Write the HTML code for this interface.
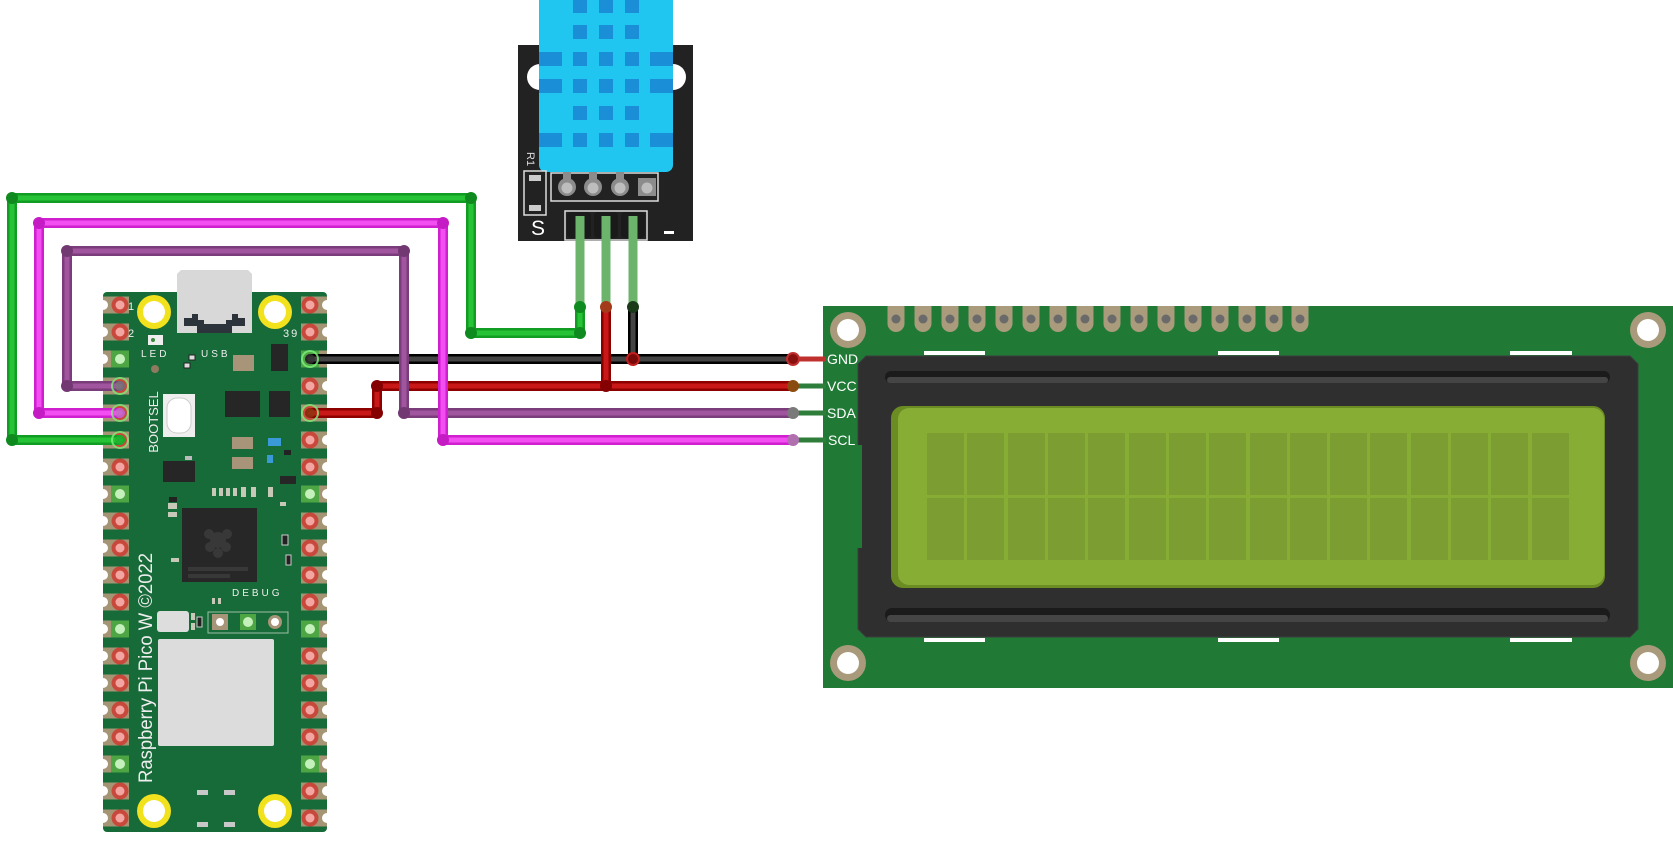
<!DOCTYPE html>
<html><head><meta charset="utf-8"><style>
html,body{margin:0;padding:0;background:#fff;}
svg{display:block;}
text{font-family:"Liberation Sans",sans-serif;}
</style></head><body>
<svg width="1673" height="853" viewBox="0 0 1673 853" xmlns="http://www.w3.org/2000/svg">
<defs>
<g id="pl">
 <rect x="103" y="-8.5" width="26" height="17" fill="#a69575"/>
 <circle cx="103" cy="0" r="5" fill="#fff"/>
 <circle cx="120" cy="0" r="8.5" fill="#c8493c"/>
 <circle cx="120" cy="0" r="4.5" fill="#f3a6a1"/>
</g>
<g id="plg">
 <rect x="103" y="-8.5" width="26" height="17" fill="#a69575"/>
 <circle cx="103" cy="0" r="5" fill="#fff"/>
 <rect x="111" y="-8.5" width="18" height="17" fill="#4da543"/>
 <circle cx="120" cy="0" r="5" fill="#c4f0bc"/>
</g>
<g id="pr">
 <rect x="301" y="-8.5" width="26" height="17" fill="#a69575"/>
 <circle cx="327" cy="0" r="5" fill="#fff"/>
 <circle cx="310" cy="0" r="8.5" fill="#c8493c"/>
 <circle cx="310" cy="0" r="4.5" fill="#f3a6a1"/>
</g>
<g id="prg">
 <rect x="301" y="-8.5" width="26" height="17" fill="#a69575"/>
 <circle cx="327" cy="0" r="5" fill="#fff"/>
 <rect x="301" y="-8.5" width="18" height="17" fill="#4da543"/>
 <circle cx="310" cy="0" r="5" fill="#c4f0bc"/>
</g>
<g id="tab">
 <path d="M-8.5 306 V323.5 A8.5 8.5 0 0 0 8.5 323.5 V306 Z" fill="#a99b7c"/>
 <circle cx="0" cy="319" r="4.5" fill="#6a6a6a"/>
</g>
<g id="hole">
 <circle r="18" fill="#a89a7b"/>
 <circle r="11" fill="#fff"/>
</g>
<g id="yhole">
 <circle r="17" fill="#f2e11d"/>
 <circle r="11" fill="#fff"/>
</g>
<rect id="sq" width="14" height="14" fill="#1a8fd7"/>
</defs>

<!-- ================= LCD ================= -->
<rect x="823" y="306" width="850" height="382" fill="#207a36"/>
<use href="#hole" x="848" y="330"/>
<use href="#hole" x="1648" y="330"/>
<use href="#hole" x="848" y="663"/>
<use href="#hole" x="1648" y="663"/>
<g>
<use href="#tab" x="896"/><use href="#tab" x="923"/><use href="#tab" x="950"/><use href="#tab" x="977"/>
<use href="#tab" x="1004"/><use href="#tab" x="1031"/><use href="#tab" x="1058"/><use href="#tab" x="1085"/>
<use href="#tab" x="1112"/><use href="#tab" x="1139"/><use href="#tab" x="1166"/><use href="#tab" x="1193"/>
<use href="#tab" x="1220"/><use href="#tab" x="1247"/><use href="#tab" x="1274"/><use href="#tab" x="1300"/>
</g>
<g fill="#fff">
<rect x="924" y="351" width="61" height="4"/><rect x="1218" y="351" width="61" height="4"/><rect x="1510" y="351" width="62" height="4"/>
<rect x="924" y="638" width="61" height="4"/><rect x="1218" y="638" width="61" height="4"/><rect x="1510" y="638" width="62" height="4"/>
</g>
<polygon points="866,356 1630,356 1638,364 1638,629 1630,637 866,637 858,629 858,364" fill="#2f2f2f" stroke="#3c3c3c" stroke-width="1"/>
<rect x="823" y="445" width="39" height="103" fill="#207a36"/>
<!-- grooves -->
<rect x="885" y="371" width="725" height="12" rx="6" fill="#1b1b1b"/>
<rect x="887" y="377" width="721" height="6" rx="3" fill="#454545"/>
<rect x="885" y="608" width="725" height="14" rx="7" fill="#1b1b1b"/>
<rect x="887" y="615" width="721" height="7" rx="3.5" fill="#454545"/>
<!-- screen -->
<rect x="891" y="406" width="714" height="182" rx="12" fill="#6b8b23"/>
<rect x="898" y="408" width="706" height="177" rx="11" fill="#87ad35"/>
<g fill="#7b9d31">
<rect x="927" y="433" width="37" height="62"/><rect x="967" y="433" width="37" height="62"/><rect x="1008" y="433" width="37" height="62"/><rect x="1048" y="433" width="37" height="62"/>
<rect x="1088" y="433" width="37" height="62"/><rect x="1129" y="433" width="37" height="62"/><rect x="1169" y="433" width="37" height="62"/><rect x="1209" y="433" width="37" height="62"/>
<rect x="1250" y="433" width="37" height="62"/><rect x="1290" y="433" width="37" height="62"/><rect x="1330" y="433" width="37" height="62"/><rect x="1370" y="433" width="37" height="62"/>
<rect x="1411" y="433" width="37" height="62"/><rect x="1451" y="433" width="37" height="62"/><rect x="1491" y="433" width="37" height="62"/><rect x="1532" y="433" width="37" height="62"/>
<rect x="927" y="498" width="37" height="62"/><rect x="967" y="498" width="37" height="62"/><rect x="1008" y="498" width="37" height="62"/><rect x="1048" y="498" width="37" height="62"/>
<rect x="1088" y="498" width="37" height="62"/><rect x="1129" y="498" width="37" height="62"/><rect x="1169" y="498" width="37" height="62"/><rect x="1209" y="498" width="37" height="62"/>
<rect x="1250" y="498" width="37" height="62"/><rect x="1290" y="498" width="37" height="62"/><rect x="1330" y="498" width="37" height="62"/><rect x="1370" y="498" width="37" height="62"/>
<rect x="1411" y="498" width="37" height="62"/><rect x="1451" y="498" width="37" height="62"/><rect x="1491" y="498" width="37" height="62"/><rect x="1532" y="498" width="37" height="62"/>
</g>
<!-- LCD pin stubs & labels -->
<line x1="793" y1="359" x2="826" y2="359" stroke="#c0302e" stroke-width="5"/>
<line x1="793" y1="386" x2="826" y2="386" stroke="#2f7d3a" stroke-width="5"/>
<line x1="793" y1="413" x2="826" y2="413" stroke="#2f7d3a" stroke-width="5"/>
<line x1="793" y1="440" x2="826" y2="440" stroke="#2f7d3a" stroke-width="5"/>
<g fill="#fff" font-size="14">
<text x="827" y="364">GND</text>
<text x="827" y="391">VCC</text>
<text x="827" y="418">SDA</text>
<text x="828" y="445">SCL</text>
</g>

<!-- ================= DHT11 module ================= -->
<rect x="518" y="45" width="175" height="196" fill="#222"/>
<circle cx="540" cy="77" r="13" fill="#fff"/>
<circle cx="673" cy="77" r="13" fill="#fff"/>
<rect x="539" y="-10" width="134" height="182" rx="7" fill="#20c6ef"/>
<g>
<use href="#sq" x="573" y="-1"/><use href="#sq" x="599" y="-1"/><use href="#sq" x="625" y="-1"/>
<use href="#sq" x="573" y="25"/><use href="#sq" x="599" y="25"/><use href="#sq" x="625" y="25"/>
<use href="#sq" x="573" y="52"/><use href="#sq" x="599" y="52"/><use href="#sq" x="625" y="52"/>
<use href="#sq" x="573" y="79"/><use href="#sq" x="599" y="79"/><use href="#sq" x="625" y="79"/>
<use href="#sq" x="573" y="106"/><use href="#sq" x="599" y="106"/><use href="#sq" x="625" y="106"/>
<use href="#sq" x="573" y="133"/><use href="#sq" x="599" y="133"/><use href="#sq" x="625" y="133"/>
<rect x="539" y="52" width="23" height="14" fill="#1a8fd7"/><rect x="650" y="52" width="23" height="14" fill="#1a8fd7"/>
<rect x="539" y="79" width="23" height="14" fill="#1a8fd7"/><rect x="650" y="79" width="23" height="14" fill="#1a8fd7"/>
<rect x="539" y="133" width="23" height="14" fill="#1a8fd7"/><rect x="650" y="133" width="23" height="14" fill="#1a8fd7"/>
</g>
<rect x="551" y="173" width="107" height="28" fill="none" stroke="#ddd" stroke-width="1.5"/>
<g fill="#8c8c8c">
<rect x="563" y="172" width="8" height="12"/><circle cx="567" cy="187" r="9"/>
<rect x="589" y="172" width="8" height="12"/><circle cx="593" cy="187" r="9"/>
<rect x="616" y="172" width="8" height="12"/><circle cx="620" cy="187" r="9"/>
<rect x="638" y="178" width="18" height="18"/>
</g>
<g fill="#bdbdbd">
<circle cx="567" cy="188" r="5.5"/><circle cx="593" cy="188" r="5.5"/><circle cx="620" cy="188" r="5.5"/><circle cx="647" cy="188" r="5.5"/>
</g>
<rect x="524" y="171" width="22" height="44" fill="#222" stroke="#ddd" stroke-width="1.5"/>
<rect x="529" y="175" width="12" height="6" fill="#ccc"/>
<rect x="529" y="205" width="12" height="6" fill="#ccc"/>
<text x="0" y="0" fill="#ddd" font-size="11" transform="translate(527,152) rotate(90)">R1</text>
<text x="531" y="235" fill="#fff" font-size="21">S</text>
<rect x="664" y="231" width="10" height="3" fill="#fff"/>
<rect x="565" y="211" width="82" height="29" fill="none" stroke="#ddd" stroke-width="1.5"/>
<rect x="567" y="212" width="24" height="26" rx="4" fill="#1a1a1a"/>
<rect x="594" y="212" width="24" height="26" rx="4" fill="#1a1a1a"/>
<rect x="621" y="212" width="24" height="26" rx="4" fill="#1a1a1a"/>
<g stroke="#6cb46c" stroke-width="9">
<line x1="580" y1="216" x2="580" y2="305"/>
<line x1="606" y1="216" x2="606" y2="305"/>
<line x1="633" y1="216" x2="633" y2="305"/>
</g>

<!-- ================= Pico W ================= -->
<path d="M181 270 H248 L252 274 V333 H177 V274 Z" fill="#d8d8d8"/>
<rect x="103" y="292" width="224" height="540" rx="4" fill="#176b39"/>
<path d="M177 292 V333 H252 V292" fill="#d8d8d8"/>
<path d="M184 318 H192 V314 H198 V320 H204 V324 H226 V320 H232 V314 H238 V318 H245 V326 H232 V333 H197 V326 H184 Z" fill="#2d333a"/>
<use href="#yhole" x="154" y="312"/>
<use href="#yhole" x="275" y="312"/>
<use href="#yhole" x="154" y="811"/>
<use href="#yhole" x="275" y="811"/>
<!-- pins -->
<use href="#pl" y="305"/><use href="#pl" y="332"/><use href="#plg" y="359"/><use href="#pl" y="386"/><use href="#pl" y="413"/>
<use href="#pl" y="440"/><use href="#pl" y="467"/><use href="#plg" y="494"/><use href="#pl" y="521"/><use href="#pl" y="548"/>
<use href="#pl" y="575"/><use href="#pl" y="602"/><use href="#plg" y="629"/><use href="#pl" y="656"/><use href="#pl" y="683"/>
<use href="#pl" y="710"/><use href="#pl" y="737"/><use href="#plg" y="764"/><use href="#pl" y="791"/><use href="#pl" y="818"/>
<use href="#pr" y="305"/><use href="#pr" y="332"/><use href="#prg" y="359"/><use href="#pr" y="386"/><use href="#pr" y="413"/>
<use href="#pr" y="440"/><use href="#pr" y="467"/><use href="#prg" y="494"/><use href="#pr" y="521"/><use href="#pr" y="548"/>
<use href="#pr" y="575"/><use href="#pr" y="602"/><use href="#prg" y="629"/><use href="#pr" y="656"/><use href="#pr" y="683"/>
<use href="#pr" y="710"/><use href="#pr" y="737"/><use href="#prg" y="764"/><use href="#pr" y="791"/><use href="#pr" y="818"/>
<!-- labels -->
<g fill="#eee" font-size="11">
<text x="128" y="310">1</text>
<text x="128" y="337">2</text>
<text x="283" y="337" letter-spacing="2">39</text>
<text x="141" y="357" font-size="10" letter-spacing="3">LED</text>
<text x="201" y="357" font-size="10" letter-spacing="3">USB</text>
<text x="232" y="596" font-size="10" letter-spacing="3">DEBUG</text>
</g>
<text x="0" y="0" fill="#eee" font-size="13" text-anchor="middle" transform="translate(158,422) rotate(-90)">BOOTSEL</text>
<text x="0" y="0" fill="#eee" font-size="19" text-anchor="middle" textLength="230" lengthAdjust="spacingAndGlyphs" transform="translate(152,668) rotate(-90)">Raspberry Pi Pico W ©2022</text>
<!-- components -->
<rect x="148" y="335" width="15" height="10" fill="#eee"/>
<circle cx="153" cy="340" r="2" fill="#3a8a3a"/>
<circle cx="155" cy="369" r="4" fill="#8f7a5f"/>
<rect x="189" y="355" width="6" height="5" fill="#ddd" stroke="#222"/>
<rect x="184" y="363" width="6" height="5" fill="#ddd" stroke="#222"/>
<rect x="271" y="344" width="17" height="27" fill="#262626"/>
<rect x="233" y="355" width="21" height="16" fill="#a89478"/>
<rect x="225" y="391" width="35" height="26" fill="#262626"/>
<rect x="269" y="391" width="21" height="26" fill="#262626"/>
<rect x="163" y="394" width="32" height="43" fill="#eee"/>
<rect x="167" y="398" width="24" height="35" rx="10" fill="#fff" stroke="#ccc"/>
<rect x="232" y="437" width="21" height="12" fill="#a89478"/>
<rect x="232" y="457" width="21" height="12" fill="#a89478"/>
<rect x="268" y="438" width="13" height="8" fill="#3a9ad8"/>
<rect x="267" y="455" width="6" height="8" fill="#3a9ad8"/>
<rect x="284" y="450" width="7" height="5" fill="#222"/>
<rect x="163" y="461" width="32" height="21" fill="#262626"/>
<rect x="185" y="456" width="7" height="4" fill="#bbb"/>
<rect x="280" y="476" width="16" height="8" fill="#262626"/>
<g fill="#c8c8b8">
<rect x="212" y="488" width="4" height="8"/><rect x="219" y="488" width="4" height="8"/><rect x="226" y="488" width="4" height="8"/>
<rect x="233" y="488" width="4" height="8"/><rect x="241" y="487" width="5" height="10"/><rect x="251" y="487" width="5" height="10"/>
<rect x="268" y="487" width="5" height="10"/>
</g>
<rect x="169" y="497" width="8" height="5" fill="#222"/>
<rect x="168" y="503" width="9" height="6" fill="#c8c8b8"/>
<rect x="168" y="512" width="9" height="5" fill="#c8c8b8"/>
<rect x="280" y="502" width="6" height="4" fill="#c8c8b8"/>
<rect x="282" y="535" width="6" height="10" fill="#222" stroke="#ccc"/>
<rect x="286" y="555" width="5" height="10" fill="#222" stroke="#ccc"/>
<rect x="171" y="558" width="8" height="4" fill="#c8c8b8"/>
<rect x="182" y="508" width="75" height="74" fill="#272727"/>
<g fill="#383838">
<circle cx="218" cy="540" r="8"/><circle cx="209" cy="534" r="5"/><circle cx="227" cy="534" r="5"/>
<circle cx="210" cy="547" r="5"/><circle cx="226" cy="547" r="5"/><circle cx="218" cy="553" r="5"/>
<rect x="188" y="567" width="60" height="4"/><rect x="188" y="574" width="42" height="4"/>
</g>
<rect x="212" y="598" width="3" height="6" fill="#c8c8b8"/><rect x="218" y="598" width="3" height="6" fill="#c8c8b8"/>
<rect x="157" y="611" width="32" height="21" rx="3" fill="#ddd"/>
<rect x="191" y="613" width="4" height="7" fill="#c8c8b8"/><rect x="191" y="623" width="4" height="7" fill="#c8c8b8"/>
<rect x="197" y="617" width="5" height="10" fill="#222" stroke="#ccc"/>
<rect x="208" y="612" width="80" height="21" fill="none" stroke="#9fbfa5" stroke-width="1"/>
<rect x="212" y="614" width="16" height="16" fill="#a89478"/><circle cx="220" cy="622" r="4" fill="#fff"/>
<rect x="240" y="614" width="16" height="16" fill="#4da543"/><circle cx="248" cy="622" r="5" fill="#c4f0bc"/>
<circle cx="275" cy="622" r="7" fill="#a89478"/><circle cx="275" cy="622" r="4" fill="#fff"/>
<rect x="158" y="639" width="116" height="107" rx="2" fill="#dcdcdc"/>
<g fill="#c8c8c8">
<rect x="197" y="790" width="11" height="5"/><rect x="224" y="790" width="11" height="5"/>
<rect x="197" y="822" width="11" height="5"/><rect x="224" y="822" width="11" height="5"/>
</g>

<!-- ================= Wires ================= -->
<g fill="none" stroke-linejoin="round" stroke-linecap="round">
 <!-- black -->
 <path d="M310 359 H793" stroke="#000" stroke-width="10"/>
 <path d="M310 359 H793" stroke="#444" stroke-width="5"/>
 <!-- red -->
 <path d="M310 413 H377 V386 H793" stroke="#8e0000" stroke-width="10"/>
 <path d="M310 413 H377 V386 H793" stroke="#c81818" stroke-width="5"/>
 <!-- dht red & black verticals -->
 <path d="M633 307 V359" stroke="#000" stroke-width="10"/>
 <path d="M633 307 V359" stroke="#444" stroke-width="5"/>
 <path d="M606 307 V386" stroke="#8e0000" stroke-width="10"/>
 <path d="M606 307 V386" stroke="#c81818" stroke-width="5"/>
 <!-- purple -->
 <path d="M120 386 H67 V251 H404 V413 H793" stroke="#7a3c7a" stroke-width="10"/>
 <path d="M120 386 H67 V251 H404 V413 H793" stroke="#a1559f" stroke-width="5"/>
 <!-- magenta -->
 <path d="M120 413 H39 V223 H443 V440 H793" stroke="#cf1fcf" stroke-width="10"/>
 <path d="M120 413 H39 V223 H443 V440 H793" stroke="#f24ef2" stroke-width="5"/>
 <!-- green -->
 <path d="M120 440 H12 V198 H471 V333 H580 V307" stroke="#119c23" stroke-width="10"/>
 <path d="M120 440 H12 V198 H471 V333 H580 V307" stroke="#26c336" stroke-width="5"/>
</g>
<!-- joints -->
<g fill="#0f8a1f">
<circle cx="12" cy="440" r="6"/><circle cx="12" cy="198" r="6"/><circle cx="471" cy="198" r="6"/><circle cx="471" cy="333" r="6"/><circle cx="580" cy="333" r="6"/><circle cx="580" cy="307" r="6"/>
</g>
<g fill="#c51bc5">
<circle cx="39" cy="413" r="6"/><circle cx="39" cy="223" r="6"/><circle cx="443" cy="223" r="6"/><circle cx="443" cy="440" r="6"/><circle cx="793" cy="440" r="6" fill="#b070b0"/>
</g>
<g fill="#723872">
<circle cx="67" cy="386" r="6"/><circle cx="67" cy="251" r="6"/><circle cx="404" cy="251" r="6"/><circle cx="404" cy="413" r="6"/><circle cx="793" cy="413" r="6" fill="#7a7a7a"/>
</g>
<g fill="#850000">
<circle cx="377" cy="413" r="6"/><circle cx="377" cy="386" r="6"/><circle cx="606" cy="386" r="6"/><circle cx="606" cy="307" r="6" fill="#a33a1a"/><circle cx="793" cy="386" r="6" fill="#8a4a10"/>
</g>
<g>
<circle cx="633" cy="359" r="6" fill="#7a0a0a" stroke="#c02020" stroke-width="2"/>
<circle cx="633" cy="307" r="6" fill="#1a3a1a"/>
<circle cx="793" cy="359" r="6" fill="#8a1010" stroke="#c03030" stroke-width="2"/>
</g>
<!-- pin-end highlights on pico -->
<g fill="none" stroke="#7ef27e" stroke-width="2" opacity="0.8">
<circle cx="120" cy="386" r="8"/><circle cx="120" cy="413" r="8"/><circle cx="120" cy="440" r="8"/>
<circle cx="310" cy="359" r="8"/><circle cx="310" cy="413" r="8"/>
</g>
<g fill="#777" opacity="0.8">
<circle cx="120" cy="386" r="5"/><circle cx="120" cy="413" r="5" fill="#c070c0"/><circle cx="120" cy="440" r="5" fill="#1fb02f"/>
<circle cx="310" cy="359" r="5" fill="#333"/><circle cx="310" cy="413" r="5" fill="#8a3a10"/>
</g>
</svg>
</body></html>
